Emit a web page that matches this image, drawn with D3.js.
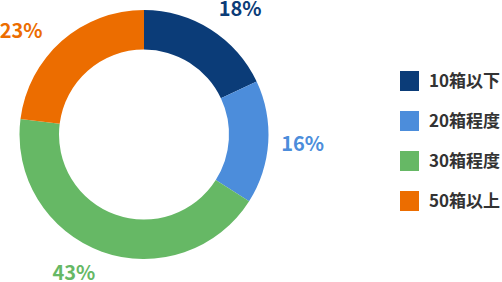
<!DOCTYPE html>
<html>
<head>
<meta charset="utf-8">
<script src="https://cdn.jsdelivr.net/npm/d3@7"></script>
<style>
  body { margin: 0; background: #fff; }
  text { font-family: "Noto Sans CJK JP", "Noto Sans", sans-serif; }
</style>
</head>
<body>
<script>
var categories = ["10箱以下", "20箱程度", "30箱程度", "50箱以上"];
var values = [18, 16, 43, 23];
var colors = ["#0b3c78", "#4c8ddb", "#66b865", "#ec6d00"];

var width = 502, height = 282;
var cx = 144, cy = 134.5, outer = 124.5, inner = 85;

var svg = d3.select("body").append("svg")
  .attr("width", width)
  .attr("height", height);

var color = d3.scaleOrdinal().domain(categories).range(colors);

var pie = d3.pie().sort(null).value(function(d) { return d; });
var arcs = pie(values);

var arc = d3.arc().innerRadius(inner).outerRadius(outer);
var labelArc = d3.arc().innerRadius(157).outerRadius(157);

var g = svg.append("g")
  .attr("transform", "translate(" + cx + "," + cy + ")");

g.selectAll(".slice")
  .data(arcs)
  .enter().append("path")
  .attr("class", "slice")
  .attr("d", arc)
  .style("fill", function(d, i) { return color(categories[i]); });

// small nudges so labels sit where the original puts them
var nudge = [[12, 7], [2, 0], [-17, -9], [-19, 14]];

g.selectAll(".pct")
  .data(arcs)
  .enter().append("text")
  .attr("class", "pct")
  .attr("x", function(d, i) { return labelArc.centroid(d)[0] + nudge[i][0]; })
  .attr("y", function(d, i) { return labelArc.centroid(d)[1] + nudge[i][1]; })
  .attr("dy", ".35em")
  .style("text-anchor", "middle")
  .style("font-size", "20px")
  .style("font-weight", "bold")
  .style("fill", function(d, i) { return color(categories[i]); })
  .text(function(d) { return d.data + "%"; });

var legend = svg.selectAll(".legend")
  .data(categories)
  .enter().append("g")
  .attr("class", "legend")
  .attr("transform", function(d, i) {
    return "translate(400," + (71 + i * 40) + ")";
  });

legend.append("rect")
  .attr("width", 19)
  .attr("height", 20)
  .style("fill", color);

legend.append("text")
  .attr("x", 29)
  .attr("y", 10)
  .attr("dy", ".35em")
  .style("font-size", "17px")
  .style("font-weight", "bold")
  .style("fill", "#333")
  .text(function(d) { return d; });
</script>
</body>
</html>
